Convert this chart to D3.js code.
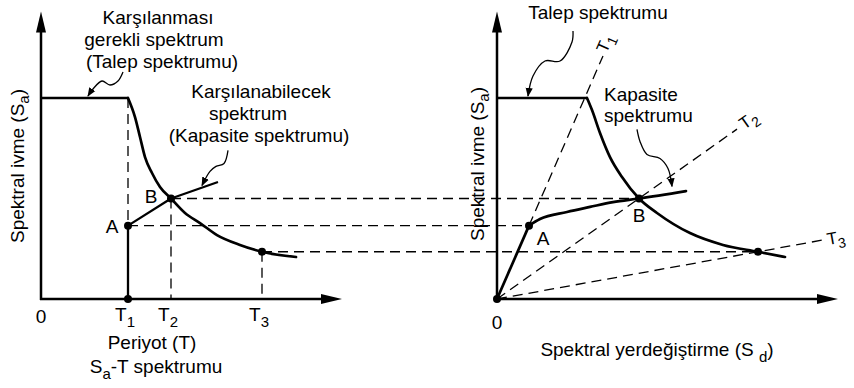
<!DOCTYPE html>
<html>
<head>
<meta charset="utf-8">
<script src="https://cdn.jsdelivr.net/npm/d3@7"></script>
<style>
  body { margin: 0; background: #fff; }
  svg text { font-family: "Liberation Sans", Arial, Helvetica, sans-serif; fill: #000; }
</style>
</head>
<body>
<svg id="chart" width="854" height="388"></svg>
<script>
// ---- Sa–T spectrum (left panel): [period T, spectral acceleration Sa], Sa normalised to the plateau
const demandSaT = [[0, 1.0], [0.87, 1.0], [0.94, 0.905], [0.99, 0.806], [1.04, 0.706], [1.11, 0.627],
  [1.19, 0.557], [1.30, 0.50], [1.44, 0.428], [1.59, 0.378], [1.76, 0.318], [1.99, 0.269],
  [2.21, 0.235], [2.55, 0.209]];
const capacitySaT = [[0.87, 0], [0.87, 0.365], [1.30, 0.50], [1.77, 0.582]];

// ---- ADRS format (right panel): [spectral displacement Sd, Sa]
const demandSaSd = [[0, 1.0], [0.90, 1.0], [0.95, 0.94], [1.03, 0.826], [1.13, 0.706], [1.25, 0.607],
  [1.42, 0.50], [1.60, 0.428], [1.93, 0.328], [2.26, 0.269], [2.61, 0.235], [2.88, 0.209]];
const capacitySaSd = [[0, 0], [0.32, 0.365], [0.43, 0.398], [0.70, 0.433], [0.93, 0.458],
  [1.16, 0.482], [1.42, 0.50], [1.89, 0.537]];

// ---- named points and period rays
const pointNames = ["A", "B", ""];
const pointPeriods = [0.87, 1.30, 2.21];        // T of A, B and the third point
const pointSd = [0.32, 1.42, 2.61];              // Sd of the same points
const pointSa = [0.365, 0.50, 0.235];            // common Sa level
const periodTickNames = ["1", "2", "3"];         // subscripts of T1, T2, T3
const rayEndSd = [1.06, 2.40, 3.27];             // where the dashed period rays stop

// ---- axis extents
const axisMaxT = 3.01, axisMaxSd = 3.41, axisMaxSa = 1.43;

const svg = d3.select("#chart");
const y = d3.scaleLinear().domain([0, 1]).range([299, 98]);
const xL = d3.scaleLinear().domain([0, 1]).range([41, 141]);
const xR = d3.scaleLinear().domain([0, 1]).range([497, 597]);

const FS = 19;
const SUB = 15;
const dash = "10,6";

// leader arrow marker
const defs = svg.append("defs");
defs.append("marker").attr("id", "lead").attr("viewBox", "0 0 10 10")
  .attr("refX", 9).attr("refY", 5).attr("markerWidth", 9).attr("markerHeight", 9)
  .attr("markerUnits", "userSpaceOnUse").attr("orient", "auto")
  .append("path").attr("d", "M0,1 L10,5 L0,9 Z").attr("fill", "#000");

function arrowHead(tipX, tipY, dir) {
  // big filled axis arrow head; dir: "up" or "right"
  const L = 21, W = 5;
  const pts = dir === "up"
    ? [[tipX, tipY], [tipX - W, tipY + L], [tipX + W, tipY + L]]
    : [[tipX, tipY], [tipX - L, tipY - W], [tipX - L, tipY + W]];
  svg.append("path").attr("d", d3.line()(pts) + "Z").attr("fill", "#000");
}

function axes(x, xMax) {
  svg.append("line").attr("x1", x(0)).attr("x2", x(0)).attr("y1", y(0) + 1).attr("y2", y(axisMaxSa) + 15)
    .attr("stroke", "#000").attr("stroke-width", 2.5);
  svg.append("line").attr("x1", x(0) - 1).attr("x2", x(xMax) - 15).attr("y1", y(0)).attr("y2", y(0))
    .attr("stroke", "#000").attr("stroke-width", 2.5);
  arrowHead(x(0), y(axisMaxSa), "up");
  arrowHead(x(xMax), y(0), "right");
}

function curvePath(data, x, splitAt, width) {
  const lin = d3.line().x(d => x(d[0])).y(d => y(d[1]));
  const smooth = d3.line().x(d => x(d[0])).y(d => y(d[1])).curve(d3.curveMonotoneX);
  svg.append("path").attr("d", lin(data.slice(0, splitAt + 1))).attr("fill", "none")
    .attr("stroke", "#000").attr("stroke-width", width).attr("stroke-linejoin", "round");
  svg.append("path").attr("d", smooth(data.slice(splitAt))).attr("fill", "none")
    .attr("stroke", "#000").attr("stroke-width", width).attr("stroke-linecap", "round");
}

function dashed(x1, y1, x2, y2) {
  svg.append("line").attr("x1", x1).attr("y1", y1).attr("x2", x2).attr("y2", y2)
    .attr("stroke", "#000").attr("stroke-width", 1.3).attr("stroke-dasharray", dash);
}

function dot(cx, cy) {
  svg.append("circle").attr("cx", cx).attr("cy", cy).attr("r", 4).attr("fill", "#000");
}

function label(x, yy, parts, opts = {}) {
  const t = svg.append("text").attr("x", x).attr("y", yy)
    .attr("text-anchor", opts.anchor || "middle").attr("font-size", opts.size || FS);
  if (opts.rotate !== undefined) t.attr("transform", `rotate(${opts.rotate},${x},${yy})`);
  parts.forEach(p => {
    if (typeof p === "string") t.append("tspan").text(p);
    else t.append("tspan").attr("font-size", p.size || SUB).attr("dy", p.dy).text(p.t);
  });
  return t;
}

function leader(tip, offsets) {
  const pts = offsets.map(o => [tip[0] + o[0], tip[1] + o[1]]);
  pts.push(tip);
  svg.append("path").attr("d", d3.line().curve(d3.curveCatmullRom.alpha(0.5))(pts))
    .attr("fill", "none").attr("stroke", "#000").attr("stroke-width", 1.3)
    .attr("marker-end", "url(#lead)");
}

// ---------------- dashed guides (below the curves)
// verticals in Sa–T panel
dashed(xL(pointPeriods[0]), y(1), xL(pointPeriods[0]), y(pointSa[0]));
dashed(xL(pointPeriods[1]), y(pointSa[1]), xL(pointPeriods[1]), y(0));
dashed(xL(pointPeriods[2]), y(pointSa[2]), xL(pointPeriods[2]), y(0));
// horizontals carrying each Sa level across to the ADRS panel
pointSa.forEach((s, i) => dashed(xL(pointPeriods[i]), y(s), xR(pointSd[i]), y(s)));
// period rays from the origin of the ADRS panel
rayEndSd.forEach((e, i) => {
  const slope = pointSa[i] / pointSd[i];
  dashed(xR(0), y(0), xR(e), y(slope * e));
});

// ---------------- axes
axes(xL, axisMaxT);
axes(xR, axisMaxSd);

// ---------------- spectra
curvePath(demandSaT, xL, 1, 2.7);
svg.append("path").attr("d", d3.line().x(d => xL(d[0])).y(d => y(d[1]))(capacitySaT))
  .attr("fill", "none").attr("stroke", "#000").attr("stroke-width", 2.3).attr("stroke-linejoin", "round");
curvePath(demandSaSd, xR, 1, 2.7);
curvePath(capacitySaSd, xR, 1, 2.7);

// ---------------- points
dot(xL(pointPeriods[0]), y(0));
pointSa.forEach((s, i) => { dot(xL(pointPeriods[i]), y(s)); dot(xR(pointSd[i]), y(s)); });
dot(xR(0), y(0));

// point letters
label(xL(pointPeriods[0]) - 16, y(pointSa[0]) + 7, [pointNames[0]]);
label(xL(pointPeriods[1]) - 20, y(pointSa[1]) + 4, [pointNames[1]]);
label(xR(pointSd[0]) + 14, y(pointSa[0]) + 19, [pointNames[0]]);
label(xR(pointSd[1]), y(pointSa[1]) + 23, [pointNames[1]]);

// ---------------- axis labels, Sa–T panel
label(xL(0), 323, ["0"]);
pointPeriods.forEach((p, i) => label(xL(p) - 3, 321, ["T", { t: periodTickNames[i], dy: 6 }]));
label(152, 349, ["Periyot (T)"]);
label(156, 373, ["S", { t: "a", dy: 6 }, { t: "-T spektrumu", dy: -6, size: FS }]);
label(24, 166, ["Spektral ivme (S", { t: "a", dy: 5 }, { t: ")", dy: -5, size: FS }], { rotate: -90 });

// ---------------- axis labels, ADRS panel
label(xR(0), 329, ["0"]);
label(657, 356, ["Spektral yerdeğiştirme (S ", { t: "d", dy: 6 }, { t: ")", dy: -6, size: FS }]);
label(484, 164, ["Spektral ivme (S", { t: "a", dy: 5 }, { t: ")", dy: -5, size: FS }], { rotate: -90 });

// period ray labels
rayEndSd.forEach((e, i) => {
  const slope = pointSa[i] / pointSd[i];
  const ang = Math.atan2(y(slope * e) - y(0), xR(e) - xR(0)) * 180 / Math.PI;
  const r = i === 2 ? 4 : 9;
  const lx = xR(e) + r * Math.cos(ang * Math.PI / 180);
  const ly = y(slope * e) + r * Math.sin(ang * Math.PI / 180);
  label(lx, ly + 6, ["T", { t: periodTickNames[i], dy: 5, size: 14 }], { anchor: "start", rotate: ang, size: 17 });
});

// ---------------- annotations
label(158, 24, ["Karşılanması"]);
label(154, 46, ["gerekli spektrum"]);
label(162, 68, ["(Talep spektrumu)"]);
leader([xL(0.47), y(1) - 2], [[35, -24], [30, -15], [22, -11], [14, -15], [5, -7]]);

label(261, 98, ["Karşılanabilecek"]);
label(248, 120, ["spektrum"]);
label(259, 142, ["(Kapasite spektrumu)"]);
leader([xL(1.61), y(0.565)], [[26, -35], [22, -22], [14, -19], [8, -14]]);

label(598, 19, ["Talep spektrumu"]);
leader([xR(0.31), y(1) - 2], [[45, -65], [44, -54], [32, -35], [17, -35], [5, -20]]);

label(604, 101, ["Kapasite"], { anchor: "start" });
label(604, 122, ["spektrumu"], { anchor: "start" });
leader([xR(1.75), y(0.56)], [[-35, -57], [-32, -45], [-25, -32], [-12, -28], [-4, -18]]);
</script>
</body>
</html>
